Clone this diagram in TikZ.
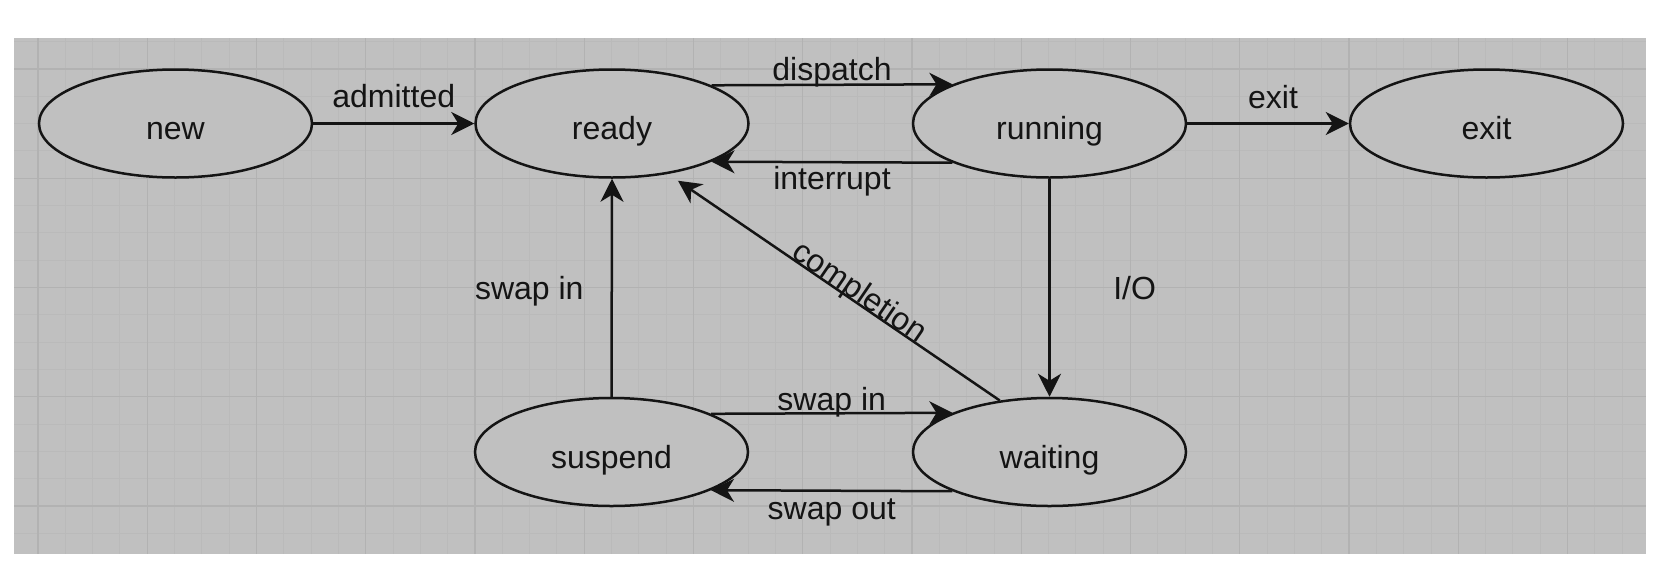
\documentclass[tikz,border=0pt]{standalone}
\usepackage{fontspec}
\setmainfont{Liberation Sans}
\usetikzlibrary{arrows.meta,shapes.geometric,calc}
\definecolor{bg}{RGB}{192,192,192}
\definecolor{gmajor}{RGB}{178,178,178}
\definecolor{gminor}{RGB}{186,186,186}
\definecolor{ink}{RGB}{20,20,20}
\begin{document}
\begin{tikzpicture}[x=1pt,y=-1pt,
  state/.style={ellipse,draw=ink,line width=2.5pt,fill=bg,minimum width=273pt,
    minimum height=108pt,inner sep=0pt,text=ink,font=\fontsize{32}{38}\selectfont},
  arr/.style={draw=ink,line width=2.5pt,-{Stealth[length=23pt,width=23pt,inset=7pt]}},
  lbl/.style={font=\fontsize{32}{38}\selectfont,inner sep=0pt,text=ink}]
\useasboundingbox (0,0) rectangle (1664,584);
\fill[white] (0,0) rectangle (1664,584);
\begin{scope}
  \clip (14,38) rectangle (1646,554);
  \fill[bg] (14,38) rectangle (1646,554);
  \foreach \k in {-1,...,60}
    \draw[gminor,line width=0.9pt] ({38+\k*27.3125},38) -- ({38+\k*27.3125},554);
  \foreach \k in {-2,...,19}
    \draw[gminor,line width=0.9pt] (14,{69+\k*27.3125}) -- (1646,{69+\k*27.3125});
  \foreach \k in {0,...,14}
    \draw[gmajor,line width=1.4pt] ({38+\k*109.25},38) -- ({38+\k*109.25},554);
  \foreach \k in {0,...,4}
    \draw[gmajor,line width=1.4pt] (14,{69+\k*109.25}) -- (1646,{69+\k*109.25});
\end{scope}

\node[state] (new) at (175.5,123.5) {\raisebox{-16pt}[0pt][0pt]{new}};
\node[state] (ready) at (612,123.5) {\raisebox{-16pt}[0pt][0pt]{ready}};
\node[state] (running) at (1049.5,123.5) {\raisebox{-16pt}[0pt][0pt]{running}};
\node[state] (exit) at (1486.5,123.5) {\raisebox{-16pt}[0pt][0pt]{exit}};
\node[state] (suspend) at (611.5,452) {\raisebox{-16pt}[0pt][0pt]{suspend}};
\node[state] (waiting) at (1049.5,452) {\raisebox{-16pt}[0pt][0pt]{waiting}};

\draw[arr] (new.east) -- node[lbl,midway,anchor=base,yshift=16pt] {admitted} (ready.west);
\draw[arr] (ready.21.3) -- node[lbl,midway,anchor=base,yshift=4pt] {dispatch} (running.158.7);
\draw[arr] (running.-158.7) -- node[lbl,midway,anchor=base,yshift=-27pt] {interrupt} (ready.-21.3);
\draw[arr] (running.east) -- node[lbl,midway,anchor=base,yshift=15.5pt,xshift=5pt] {exit} (exit.west);
\draw[arr] (suspend.north) -- node[lbl,midway,anchor=base east,xshift=-27pt,yshift=-12pt] {swap in} (ready.south);
\draw[arr] (running.south) -- node[lbl,midway,anchor=base west,xshift=62.5pt,yshift=-12pt] {I/O} (waiting.north);
\draw[arr,shorten >=12pt] (waiting.134.7) -- node[lbl,pos=0.44,sloped,anchor=base,yshift=1pt] {completion} (ready.-42.4);
\draw[arr] (suspend.21.3) -- node[lbl,midway,anchor=base,yshift=3pt] {swap in} (waiting.158.7);
\draw[arr] (waiting.-158.7) -- node[lbl,midway,anchor=base,yshift=-29pt] {swap out} (suspend.-21.3);
\end{tikzpicture}
\end{document}
